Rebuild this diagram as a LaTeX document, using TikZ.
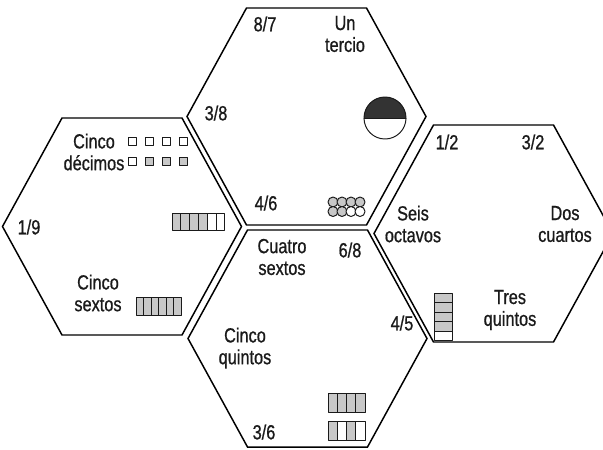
\documentclass[tikz,border=0pt]{standalone}
\usepackage{fontspec}
\setmainfont{Liberation Sans}[FakeStretch=0.8, FakeBold=0.8]
\definecolor{cellgray}{HTML}{C8C8C8}
\definecolor{halfdark}{HTML}{333333}
\definecolor{inkgray}{HTML}{1A1A1A}
\begin{document}
\begin{tikzpicture}[x=0.025cm, y=-0.025cm, line cap=round, line join=round,
    hexline/.style={line width=1.05pt, draw=black, line join=miter},
    cell/.style={line width=0.7pt, draw=inkgray},
    lbl/.style={inner sep=0pt, outer sep=0pt, align=center, text=inkgray,
      font=\fontsize{14.5}{15.5}\selectfont}]
  \useasboundingbox (0,0) rectangle (603,449);
  \clip (0,0) rectangle (603,449);
  % hexagonos
  \foreach \cx/\cy in {306.5/116.5, 122/226.5, 493.5/233.5, 307.5/338.5}
    \draw[hexline] (\cx-119.5,\cy) -- (\cx-60,\cy-108.5) -- (\cx+60,\cy-108.5)
      -- (\cx+119.5,\cy) -- (\cx+60,\cy+108.5) -- (\cx-60,\cy+108.5) -- cycle;
  % hexagono de arriba
  \node[lbl] (tOchoSep) at (265,24) {8/7};
  \node[lbl] (tUnTercio) at (345,34) {Un\\tercio};
  \node[lbl] (tTresOct) at (216,113) {3/8};
  \node[lbl] (tCuatroSex) at (266,203) {4/6};
  \fill[halfdark] (385,118) ++(-21,0) arc[start angle=180, end angle=360, radius=21] -- cycle;
  \draw[cell] (385,118) circle[radius=21];
  \draw[cell] (364,118) -- (406,118);
  \foreach \c [count=\i from 0] in {cellgray,cellgray,cellgray,cellgray}
    \draw[cell, fill=\c] (333+9*\i,202) circle[radius=5];
  \foreach \c [count=\i from 0] in {cellgray,cellgray,white,white}
    \draw[cell, fill=\c] (333+9*\i,211.5) circle[radius=5];
  % hexagono izquierdo
  \node[lbl] (tCincoDec) at (94,152) {Cinco\\décimos};
  \node[lbl] (tUnNov) at (29,227) {1/9};
  \node[lbl] (tCincoSex) at (98,293) {Cinco\\sextos};
  \foreach \c [count=\i from 0] in {white,white,white,white}
    \draw[cell, fill=\c] (128+17*\i,137) rectangle ++(8.5,8.5);
  \foreach \c [count=\i from 0] in {white,cellgray,cellgray,cellgray}
    \draw[cell, fill=\c] (128+17*\i,157) rectangle ++(8.5,8.5);
  \foreach \c [count=\i from 0] in {cellgray,cellgray,cellgray,cellgray,white,white}
    \draw[cell, fill=\c] (172+8.83*\i,213) rectangle ++(8.83,17);
  \foreach \c [count=\i from 0] in {cellgray,cellgray,cellgray,cellgray,cellgray,cellgray}
    \draw[cell, fill=\c] (136+7.5*\i,297) rectangle ++(7.5,18);
  % hexagono derecho
  \node[lbl] (tUnMed) at (447,142) {1/2};
  \node[lbl] (tTresMed) at (533,142) {3/2};
  \node[lbl] (tSeisOct) at (413,224) {Seis\\octavos};
  \node[lbl] (tDosCuar) at (565,224) {Dos\\cuartos};
  \node[lbl] (tTresQuin) at (510,310) {Tres\\quintos};
  \foreach \c [count=\i from 0] in {cellgray,cellgray,cellgray,cellgray,white}
    \draw[cell, fill=\c] (434,293+9.5*\i) rectangle ++(18,9.5);
  % hexagono de abajo
  \node[lbl] (tCuatroQuin) at (402,323) {4/5};
  \node[lbl] (tSeisOchos) at (350,250) {6/8};
  \node[lbl] (tCuatroSexTxt) at (282,257) {Cuatro\\sextos};
  \node[lbl] (tCincoQuin) at (245,348) {Cinco\\quintos};
  \node[lbl] (tTresSex) at (264,432) {3/6};
  \foreach \c [count=\i from 0] in {cellgray,cellgray,cellgray,cellgray}
    \draw[cell, fill=\c] (328+9.25*\i,393) rectangle ++(9.25,19);
  \foreach \c [count=\i from 0] in {cellgray,white,cellgray,white}
    \draw[cell, fill=\c] (328+9.25*\i,421) rectangle ++(9.25,19);
\end{tikzpicture}
\end{document}
